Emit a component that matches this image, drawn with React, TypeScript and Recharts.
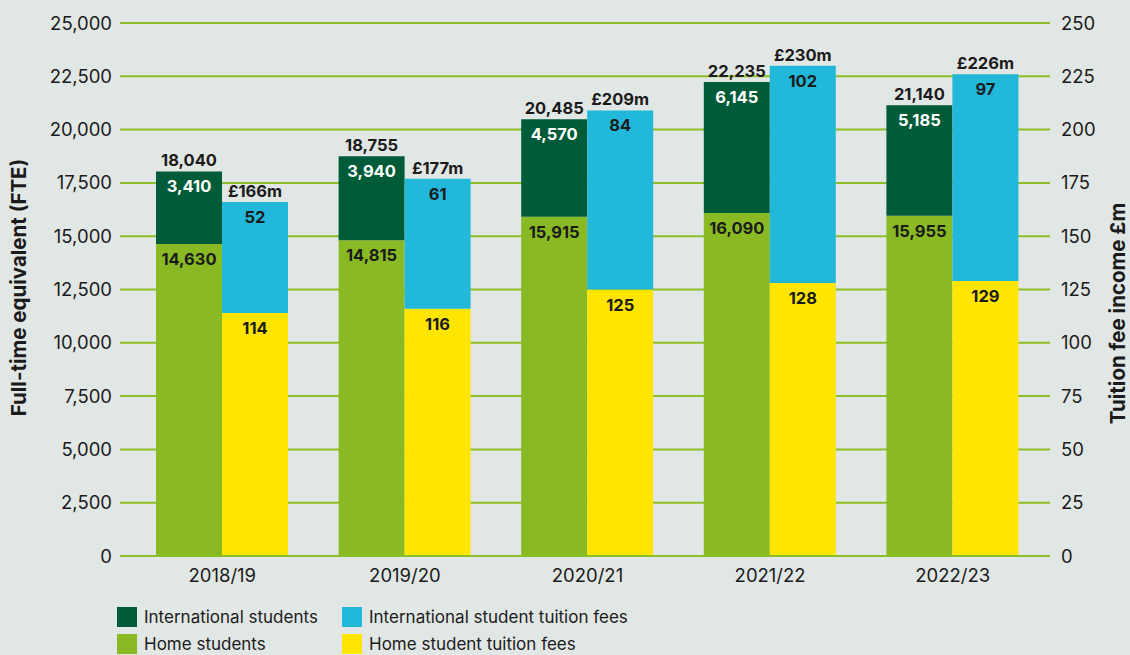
import { Bar, BarChart, CartesianGrid, LabelList, XAxis, YAxis } from 'recharts'

const BG = '#e1e7e4'
const GRID = '#8cbf27'
const INK = '#1b1b1b'
const INTL = '#005c38'
const HOME = '#89ba24'
const INTL_FEE = '#21b8d9'
const HOME_FEE = '#ffe500'
const FONT = 'Inter, sans-serif'

const years = ['2018/19', '2019/20', '2020/21', '2021/22', '2022/23']
const homeStudents = [14630, 14815, 15915, 16090, 15955]
const intlStudents = [3410, 3940, 4570, 6145, 5185]
const homeFees = [114, 116, 125, 128, 129]
const intlFees = [52, 61, 84, 102, 97]
const fteTicks = [0, 2500, 5000, 7500, 10000, 12500, 15000, 17500, 20000, 22500, 25000]
const feeTicks = [0, 25, 50, 75, 100, 125, 150, 175, 200, 225, 250]

const data = years.map((year, i) => ({
  year,
  home: homeStudents[i],
  intl: intlStudents[i],
  fteTotal: homeStudents[i] + intlStudents[i],
  homeFee: homeFees[i],
  intlFee: intlFees[i],
  feeTotal: homeFees[i] + intlFees[i],
}))

const fmt = (v: number) => v.toLocaleString('en-GB')

function segLabel(fill: string) {
  return (p: any) => (
    <text
      x={p.x + p.width / 2}
      y={p.y + 15}
      textAnchor="middle"
      dominantBaseline="central"
      fill={fill}
      fontFamily={FONT}
      fontWeight={700}
      fontSize={16.5}
    >
      {fmt(Number(p.value))}
    </text>
  )
}

function totalLabel(prefix: string, suffix: string) {
  return (p: any) => (
    <text
      x={p.x + p.width / 2}
      y={p.y - 11}
      textAnchor="middle"
      dominantBaseline="central"
      fill={INK}
      fontFamily={FONT}
      fontWeight={700}
      fontSize={16.5}
    >
      {prefix + fmt(Number(p.value)) + suffix}
    </text>
  )
}

function axisTitle(text: string, dx: number, dy: number) {
  return (p: any) => {
    const vb = p.viewBox
    const x = vb.x + dx
    const y = vb.y + vb.height / 2 + dy
    return (
      <text
        x={x}
        y={y}
        transform={`rotate(-90 ${x} ${y})`}
        textAnchor="middle"
        dominantBaseline="central"
        fill={INK}
        fontFamily={FONT}
        fontWeight={700}
        fontSize={20.5}
      >
        {text}
      </text>
    )
  }
}

const tick = { fill: INK, fontSize: 18.5, fontFamily: FONT }

const legendItems = [
  { label: 'International students', color: INTL },
  { label: 'International student tuition fees', color: INTL_FEE },
  { label: 'Home students', color: HOME },
  { label: 'Home student tuition fees', color: HOME_FEE },
]

export default function App() {
  return (
    <div
      style={{
        position: 'absolute',
        left: 0,
        top: 0,
        width: 1130,
        height: 655,
        background: BG,
        fontFamily: FONT,
        overflow: 'hidden',
      }}
    >
      <BarChart
        width={1130}
        height={600}
        data={data}
        margin={{ top: 23, right: 0, bottom: 0, left: 0 }}
        barGap={0}
        barSize={66}
      >
        <CartesianGrid yAxisId="fte" vertical={false} stroke={GRID} strokeWidth={2} />
        <XAxis
          dataKey="year"
          height={44}
          tick={tick}
          tickLine={false}
          axisLine={{ stroke: GRID, strokeWidth: 2 }}
          tickMargin={7}
          padding={{ left: 11, right: 6 }}
        />
        <YAxis
          yAxisId="fte"
          width={120}
          domain={[0, 25000]}
          ticks={fteTicks}
          tickFormatter={fmt}
          tick={tick}
          tickLine={false}
          axisLine={false}
          label={{ content: axisTitle('Full-time equivalent (FTE)', 18, -2) }}
        />
        <YAxis
          yAxisId="fee"
          orientation="right"
          width={80}
          domain={[0, 250]}
          ticks={feeTicks}
          tick={{ ...tick, textAnchor: 'start' }}
          tickLine={false}
          axisLine={false}
          tickMargin={5}
          label={{ content: axisTitle('Tuition fee income £m', 67, 24) }}
        />
        <Bar yAxisId="fte" dataKey="home" stackId="fte" fill={HOME} isAnimationActive={false}>
          <LabelList dataKey="home" content={segLabel(INK)} />
        </Bar>
        <Bar yAxisId="fte" dataKey="intl" stackId="fte" fill={INTL} isAnimationActive={false}>
          <LabelList dataKey="intl" content={segLabel('#ffffff')} />
          <LabelList dataKey="fteTotal" content={totalLabel('', '')} />
        </Bar>
        <Bar yAxisId="fee" dataKey="homeFee" stackId="fee" fill={HOME_FEE} isAnimationActive={false}>
          <LabelList dataKey="homeFee" content={segLabel(INK)} />
        </Bar>
        <Bar yAxisId="fee" dataKey="intlFee" stackId="fee" fill={INTL_FEE} isAnimationActive={false}>
          <LabelList dataKey="intlFee" content={segLabel(INK)} />
          <LabelList dataKey="feeTotal" content={totalLabel('£', 'm')} />
        </Bar>
      </BarChart>
      <div
        style={{
          position: 'absolute',
          left: 117,
          top: 607,
          display: 'grid',
          gridTemplateColumns: '225px auto',
          rowGap: 7,
        }}
      >
        {legendItems.map((it) => (
          <div key={it.label} style={{ display: 'flex', alignItems: 'center', height: 20 }}>
            <span style={{ width: 20, height: 20, background: it.color, marginRight: 7 }} />
            <span style={{ fontSize: 17, color: INK }}>{it.label}</span>
          </div>
        ))}
      </div>
    </div>
  )
}
